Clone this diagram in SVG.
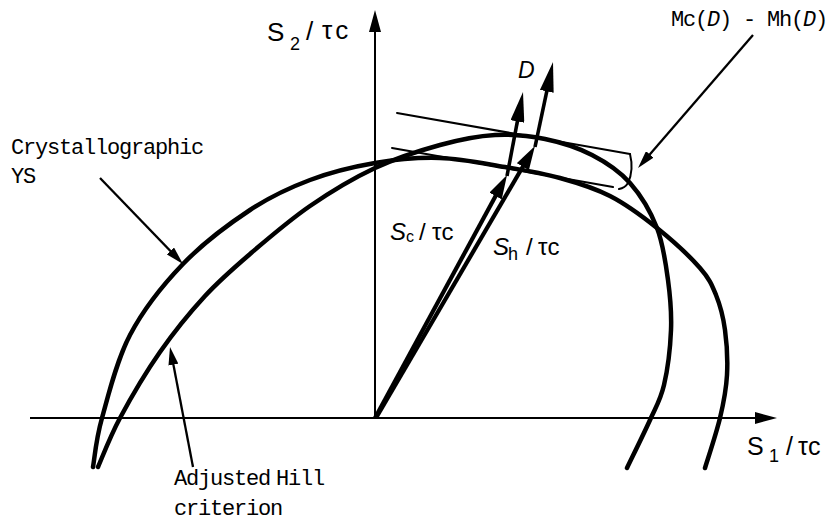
<svg xmlns="http://www.w3.org/2000/svg" width="828" height="522" viewBox="0 0 828 522">
<style>
.curve{fill:none;stroke:#000;stroke-width:4.5;stroke-linecap:round;stroke-linejoin:round}
.axis{fill:none;stroke:#000;stroke-width:2}
.thin{fill:none;stroke:#000;stroke-width:2;stroke-linecap:round}
.lead{fill:none;stroke:#000;stroke-width:2.3}
.vec{fill:none;stroke:#000;stroke-width:4.2}
.dvec{fill:none;stroke:#000;stroke-width:3.6}
.mono{font-family:"Liberation Mono","DejaVu Sans Mono",monospace;font-size:22px;letter-spacing:-1.2px;fill:#000}
.math{font-family:"Liberation Sans","DejaVu Sans",sans-serif;fill:#000}
</style>
<defs>
<marker id="ahAxis" viewBox="0 0 10 10" refX="5" refY="5" markerUnits="userSpaceOnUse" markerWidth="22" markerHeight="12" orient="auto" preserveAspectRatio="none"><path d="M0,0 L10,5 L0,10 z" fill="#000"/></marker>
<marker id="ahLead" viewBox="0 0 10 10" refX="5" refY="5" markerUnits="userSpaceOnUse" markerWidth="18" markerHeight="10" orient="auto" preserveAspectRatio="none"><path d="M0,0 L10,5 L0,10 z" fill="#000"/></marker>
<marker id="ahVec" viewBox="0 0 10 10" refX="5" refY="5" markerUnits="userSpaceOnUse" markerWidth="24" markerHeight="14" orient="auto" preserveAspectRatio="none"><path d="M0,0 L10,5 L0,10 z" fill="#000"/></marker>
<marker id="ahD" viewBox="0 0 10 10" refX="5" refY="5" markerUnits="userSpaceOnUse" markerWidth="30" markerHeight="14" orient="auto" preserveAspectRatio="none"><path d="M0,0 L10,5 L0,10 z" fill="#000"/></marker>
</defs>

<g id="axes">
<path id="axis-s1" class="axis" d="M30,418 L766,418" marker-end="url(#ahAxis)"/>
<path id="axis-s2" class="axis" d="M375,418 L375,21" marker-end="url(#ahAxis)"/>
</g>

<g id="crystallographic-ys">
<path class="curve" d="M93,467 C94.5,458.8 95.8,440 102,418 C108.2,396 116.5,360.7 130,335 C143.5,309.3 163,284.8 183,264 C203,243.2 228.8,224 250,210 C271.2,196 289.2,187.8 310,180 C330.8,172.2 353.3,166.7 375,163 C396.7,159.3 418.3,157.3 440,158 C461.7,158.7 485,163.7 505,167 C525,170.3 542.5,173.2 560,178 C577.5,182.8 593.8,187.7 610,196 C626.2,204.3 642,216 657,228 C672,240 690.2,256.8 700,268 C709.8,279.2 711.8,284.7 716,295 C720.2,305.3 723.2,316.7 725,330 C726.8,343.3 727.8,360.3 727,375 C726.2,389.7 723.7,402.5 720,418 C716.3,433.5 707.5,459.7 705,468"/>
</g>

<g id="adjusted-hill">
<path class="curve" d="M98,467 C101.7,458.8 109.7,437.2 120,418 C130.3,398.8 145.8,372.3 160,352 C174.2,331.7 190,312.3 205,296 C220,279.7 232.5,269 250,254 C267.5,239 289.2,220.3 310,206 C330.8,191.7 353.3,178.2 375,168 C396.7,157.8 420,150.5 440,145 C460,139.5 477.5,136 495,135 C512.5,134 528.8,135.7 545,139 C561.2,142.3 577.8,147.7 592,155 C606.2,162.3 619.2,170.8 630,183 C640.8,195.2 650.7,211.8 657,228 C663.3,244.2 665.7,263 668,280 C670.3,297 671.7,312.5 671,330 C670.3,347.5 667.5,370 664,385 C660.5,400 656.2,406.2 650,420 C643.8,433.8 630.8,460 627,468"/>
</g>

<g id="tangent-lines">
<path class="thin" d="M397,113 L630,154"/>
<path class="thin" d="M392,148 L613,187"/>
<path class="thin" d="M630,154 Q634,170 628,183 Q625,188 619,189"/>
</g>

<g id="connectors">
<path id="vec-sc" class="vec" d="M375,418 L501.3,185.5" marker-end="url(#ahVec)"/>
<path id="vec-sh" class="vec" d="M376,418 L528.9,156.3" marker-end="url(#ahVec)"/>
<path id="d-from-sc" class="dvec" d="M507,176 L520.2,106.7" marker-end="url(#ahD)"/>
<path id="d-from-sh" class="dvec" d="M535,147 L549.9,76.7" marker-end="url(#ahD)"/>
<path id="lead-crys" class="lead" d="M100,178 L176.7,257.5" marker-end="url(#ahLead)"/>
<path id="lead-hill" class="lead" d="M193,467 L171.7,355.8" marker-end="url(#ahLead)"/>
<path id="lead-mcmh" class="lead" d="M753,35 L643.9,161.2" marker-end="url(#ahLead)"/>
</g>

<g id="label-crys">
<text class="mono" x="11" y="154">Crystallographic</text>
<text class="mono" x="11" y="183">YS</text>
</g>
<g id="label-hill">
<text class="mono" x="174" y="485" word-spacing="-6">Adjusted Hill</text>
<text class="mono" x="174" y="515">criterion</text>
</g>
<g id="label-mcmh">
<text class="mono" x="671" y="26">Mc(<tspan font-style="italic">D</tspan>) - Mh(<tspan font-style="italic">D</tspan>)</text>
</g>
<g id="label-d">
<text class="math" x="518" y="78" font-size="23" font-style="italic">D</text>
</g>
<g id="label-s2">
<text class="math" font-size="26"><tspan x="267" y="41">S</tspan><tspan x="290" y="50" font-size="18">2</tspan><tspan x="306" y="40">/</tspan><tspan x="322" y="39" letter-spacing="3">τc</tspan></text>
</g>
<g id="label-s1">
<text class="math" font-size="25"><tspan x="747" y="455">S</tspan><tspan x="769" y="462" font-size="18">1</tspan><tspan x="786" y="455">/</tspan><tspan x="798" y="455">τc</tspan></text>
</g>
<g id="label-sc">
<text class="math" font-size="24"><tspan x="390" y="240" font-style="italic">S</tspan><tspan x="406" y="242" font-size="16">c</tspan><tspan x="419" y="240">/</tspan><tspan x="432" y="240">τc</tspan></text>
</g>
<g id="label-sh">
<text class="math" font-size="24"><tspan x="493" y="255" font-style="italic">S</tspan><tspan x="508" y="260" font-size="18">h</tspan><tspan x="526" y="255">/</tspan><tspan x="538" y="255">τc</tspan></text>
</g>
</svg>
